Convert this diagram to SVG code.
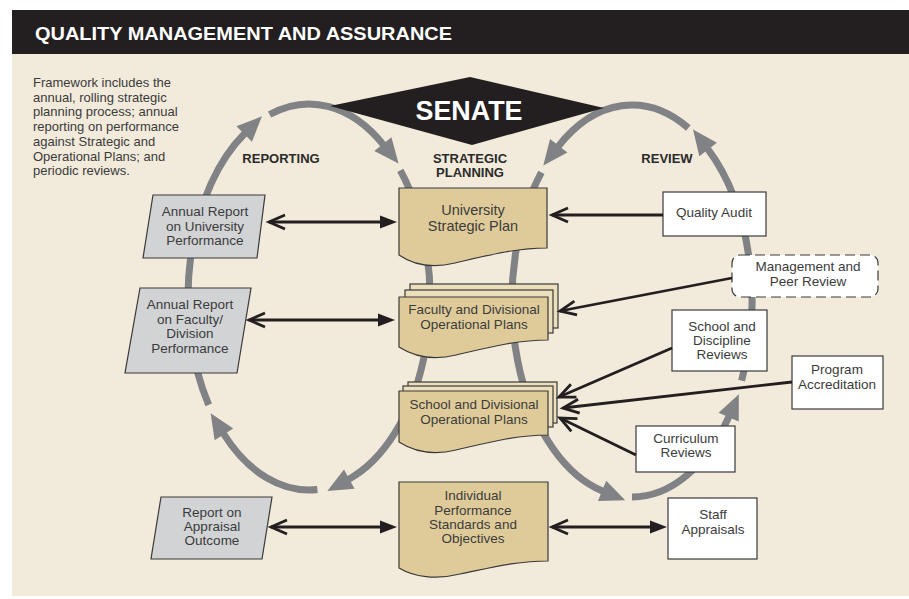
<svg xmlns="http://www.w3.org/2000/svg" width="909" height="599" viewBox="0 0 909 599">
<style>
.t{font-family:"Liberation Sans",Arial,sans-serif;font-size:13.5px;fill:#3b3b3b;text-anchor:middle}
.big{font-size:14.5px}
.intro{font-family:"Liberation Sans",Arial,sans-serif;font-size:13px;fill:#3b3b3b}
.h{font-family:"Liberation Sans",Arial,sans-serif;font-size:13px;font-weight:bold;fill:#2b2b2b;text-anchor:middle}
.loop{fill:none;stroke:#808285;stroke-width:7;marker-end:url(#garr)}
.ln{fill:none;stroke:#231f20;stroke-width:2.8}
.dbl{marker-start:url(#chev);marker-end:url(#tri)}
.one{marker-end:url(#chev)}
.plan{fill:#dfcb99;stroke:#3a3a3a;stroke-width:1.2}
.back{fill:#ecdfbb;stroke:#3a3a3a;stroke-width:1.2}
.rep{fill:#d1d3d5;stroke:#3a3a3a;stroke-width:1.2}
.box{fill:#ffffff;stroke:#3a3a3a;stroke-width:1.2}
</style>
<defs>
<marker id="garr" markerUnits="userSpaceOnUse" markerWidth="30" markerHeight="26" refX="1" refY="0" orient="auto" overflow="visible"><path d="M0,-11 L25,0 L0,11 Z" fill="#808285"/></marker>
<marker id="chev" markerUnits="userSpaceOnUse" markerWidth="20" markerHeight="18" refX="0" refY="0" orient="auto-start-reverse" overflow="visible"><path d="M-16,-7 L0,0 L-16,7" fill="none" stroke="#231f20" stroke-width="2.8"/></marker>
<marker id="tri" markerUnits="userSpaceOnUse" markerWidth="20" markerHeight="16" refX="12" refY="0" orient="auto" overflow="visible"><path d="M0,-6.5 L17,0 L0,6.5 Z" fill="#231f20"/></marker>
</defs>
<rect x="12" y="10" width="897" height="44" fill="#231f20"/>
<rect x="12" y="54" width="897" height="542" fill="#f2eada"/>
<text x="35" y="40" font-family="Liberation Sans,Arial,sans-serif" font-size="18.5" font-weight="bold" fill="#ffffff" textLength="417" lengthAdjust="spacingAndGlyphs">QUALITY MANAGEMENT AND ASSURANCE</text>
<g id="intro">
<text class="intro" x="33" y="87">Framework includes the</text>
<text class="intro" x="33" y="101.7">annual, rolling strategic</text>
<text class="intro" x="33" y="116.4">planning process; annual</text>
<text class="intro" x="33" y="131.1">reporting on performance</text>
<text class="intro" x="33" y="145.8">against Strategic and</text>
<text class="intro" x="33" y="160.5">Operational Plans; and</text>
<text class="intro" x="33" y="175.2">periodic reviews.</text>
</g>
<g id="connectors">
<path class="loop" d="M317.4,489.5 A121,193 0 0 1 223.4,433.5"/>
<path class="loop" d="M208.7,404.9 A121,193 0 0 1 244.9,133.3"/>
<path class="loop" d="M269.6,114.5 A121,193 0 0 1 383.5,144.9"/>
<path class="loop" d="M400.3,170.4 A121,193 0 0 1 348.4,479.5"/>
<path class="loop" d="M632,497 A120,196 0 0 0 729.1,416.2"/>
<path class="loop" d="M741.6,380.7 A120,196 0 0 0 707.5,148.7"/>
<path class="loop" d="M688.3,128 A120,196 0 0 0 558.1,146.6"/>
<path class="loop" d="M541.4,172.4 A120,196 0 0 0 603,491.2"/>
</g>
<g id="senate">
<polygon points="330,106 470,77 604,108 472,145" fill="#231f20"/>
<text x="469" y="120" font-family="Liberation Sans,Arial,sans-serif" font-size="28" font-weight="bold" fill="#ffffff" text-anchor="middle" textLength="107" lengthAdjust="spacingAndGlyphs">SENATE</text>
</g>
<g id="labels">
<text class="h" x="281" y="163">REPORTING</text>
<text class="h" x="470" y="163">STRATEGIC</text>
<text class="h" x="470" y="177">PLANNING</text>
<text class="h" x="667" y="163">REVIEW</text>
</g>
<g id="univ-plan">
<path class="plan" d="M399,188 H547 V248 C515,248 485,256 455,263 C430,269 412,264 399,255 Z"/>
<text class="t big" x="473" y="215">University</text>
<text class="t big" x="473" y="231">Strategic Plan</text>
</g>
<g id="faculty-plan">
<rect class="back" x="410" y="284" width="148" height="44"/>
<rect class="back" x="405" y="290" width="148" height="43"/>
<path class="plan" d="M399,297 H548 V340 C516,340 486,348 456,355 C431,361 413,356 399,347 Z"/>
<text class="t" x="474" y="314">Faculty and Divisional</text>
<text class="t" x="474" y="329">Operational Plans</text>
</g>
<g id="school-plan">
<rect class="back" x="408" y="382" width="149" height="41"/>
<rect class="back" x="403" y="386" width="150" height="41"/>
<path class="plan" d="M399,391 H548 V435 C516,435 486,443 456,450 C431,456 413,451 399,442 Z"/>
<text class="t" x="474" y="409">School and Divisional</text>
<text class="t" x="474" y="424">Operational Plans</text>
</g>
<g id="individual-plan">
<path class="plan" d="M399,482 H548 V561 C516,561 490,568 460,574 C436,580 414,577 399,568 Z"/>
<text class="t" x="473" y="500">Individual</text>
<text class="t" x="473" y="515">Performance</text>
<text class="t" x="473" y="529">Standards and</text>
<text class="t" x="473" y="543">Objectives</text>
</g>
<g id="univ-report">
<polygon class="rep" points="153,195 265,195 257,258 143,258"/>
<text class="t" x="205" y="216">Annual Report</text>
<text class="t" x="205" y="231">on University</text>
<text class="t" x="205" y="245">Performance</text>
</g>
<g id="faculty-report">
<polygon class="rep" points="140,288 251,288 237,373 125,373"/>
<text class="t" x="190" y="309">Annual Report</text>
<text class="t" x="190" y="324">on Faculty/</text>
<text class="t" x="190" y="338">Division</text>
<text class="t" x="190" y="353">Performance</text>
</g>
<g id="appraisal-report">
<polygon class="rep" points="161,497 272,497 262,559 151,559"/>
<text class="t" x="212" y="517">Report on</text>
<text class="t" x="212" y="531">Appraisal</text>
<text class="t" x="212" y="545">Outcome</text>
</g>
<g id="quality-audit">
<rect class="box" x="663" y="192" width="103" height="44"/>
<text class="t" x="714" y="217">Quality Audit</text>
</g>
<g id="mgmt-review">
<rect x="732" y="255" width="146" height="42" rx="8" fill="#ffffff" stroke="#3a3a3a" stroke-width="1.2" stroke-dasharray="10,5"/>
<text class="t" x="808" y="271">Management and</text>
<text class="t" x="808" y="286">Peer Review</text>
</g>
<g id="school-reviews">
<rect class="box" x="672" y="310" width="95" height="61"/>
<text class="t" x="722" y="331">School and</text>
<text class="t" x="722" y="345">Discipline</text>
<text class="t" x="722" y="359">Reviews</text>
</g>
<g id="program-accreditation">
<rect class="box" x="792" y="356" width="91" height="53"/>
<text class="t" x="837" y="374">Program</text>
<text class="t" x="837" y="389">Accreditation</text>
</g>
<g id="curriculum-reviews">
<rect class="box" x="636" y="426" width="99" height="46"/>
<text class="t" x="686" y="443">Curriculum</text>
<text class="t" x="686" y="457">Reviews</text>
</g>
<g id="staff-appraisals">
<rect class="box" x="668" y="498" width="89" height="61"/>
<text class="t" x="713" y="519">Staff</text>
<text class="t" x="713" y="534">Appraisals</text>
</g>
<g id="arrows">
<path class="ln dbl" d="M269,222 L392,222"/>
<path class="ln dbl" d="M249,320 L390,320"/>
<path class="ln dbl" d="M271,527 L392,527"/>
<path class="ln dbl" d="M552,527 L662,527"/>
<path class="ln one" d="M663,215 L552,215"/>
<path class="ln one" d="M732,278 L560,311"/>
<path class="ln one" d="M672,348 L559,397"/>
<path class="ln one" d="M792,382 L563,408"/>
<path class="ln one" d="M636,455 L560,418"/>
</g>
</svg>
